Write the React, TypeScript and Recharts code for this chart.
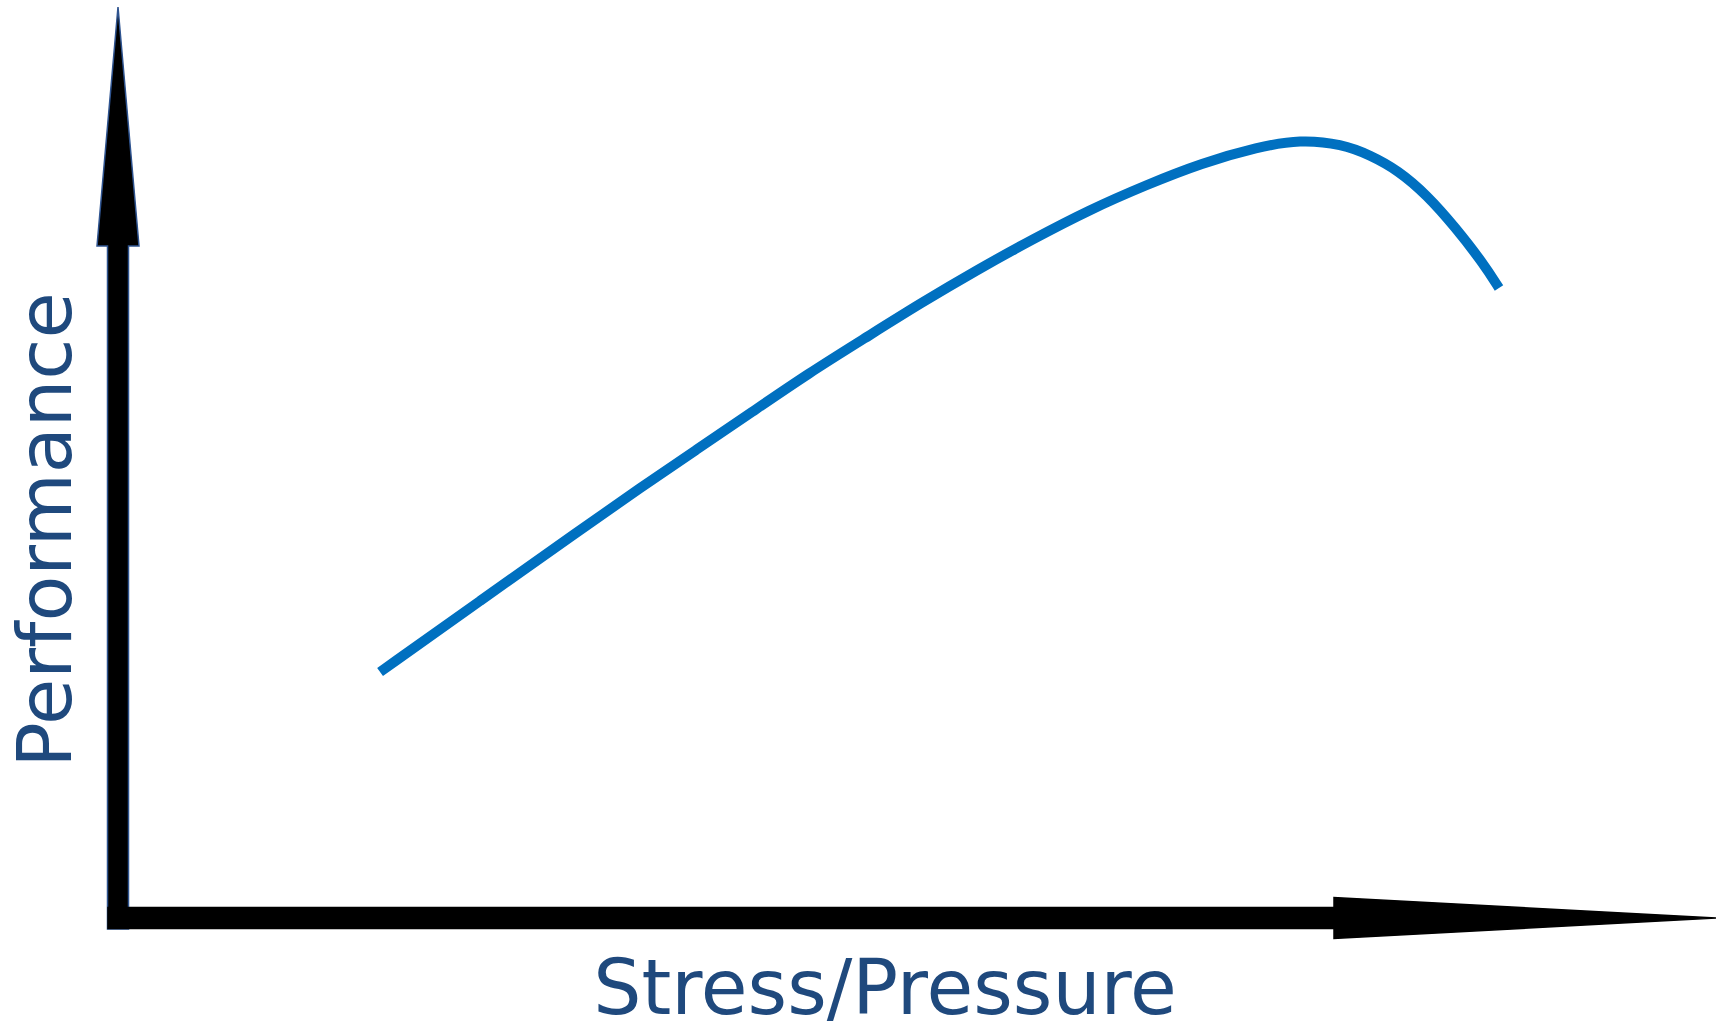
import React from 'react';
import { Line, LineChart, ReferenceLine, XAxis, YAxis } from 'recharts';

// stress / performance readings along the curve
const stress = [
  16.4, 22.65, 28.91, 32.67, 36.17, 39.67, 43.24, 46.75, 50.25, 53.75, 57.26,
  60.76, 64.33, 67.83, 71.34, 73.97, 76.6, 78.35, 80.1, 81.91, 83.67, 85.42,
  86.42,
];
const performance = [
  27.0, 34.8, 42.59, 47.2, 51.37, 55.54, 59.82, 63.66, 67.51, 71.13, 74.53,
  77.72, 80.46, 82.88, 84.63, 85.45, 84.95, 83.75, 82.08, 79.36, 75.85, 71.9,
  69.15,
];

const xAxisTitle = 'Stress/Pressure';
const yAxisTitle = 'Performance';

const data = stress.map((s, i) => ({ stress: s, performance: performance[i] }));

const TEXT_COLOR = '#1F497D';
const FONT = '"DejaVu Sans", Verdana, sans-serif';

type ArrowOpts = {
  headLength: number;
  headHalf: number;
  shaftHalf: number;
  tail: number;
  stroke: string;
};

const arrowShape =
  ({ headLength, headHalf, shaftHalf, tail, stroke }: ArrowOpts) =>
  // eslint-disable-next-line
  (props: any) => {
    const { x1, y1, x2, y2 } = props;
    const dx = x2 - x1;
    const dy = y2 - y1;
    const len = Math.sqrt(dx * dx + dy * dy) || 1;
    const ux = dx / len;
    const uy = dy / len;
    const nx = -uy;
    const ny = ux;
    const tx = x1 - ux * tail;
    const ty = y1 - uy * tail;
    const bx = x2 - ux * headLength;
    const by = y2 - uy * headLength;
    const pts = [
      [tx + nx * shaftHalf, ty + ny * shaftHalf],
      [bx + nx * shaftHalf, by + ny * shaftHalf],
      [bx + nx * headHalf, by + ny * headHalf],
      [x2, y2],
      [bx - nx * headHalf, by - ny * headHalf],
      [bx - nx * shaftHalf, by - ny * shaftHalf],
      [tx - nx * shaftHalf, ty - ny * shaftHalf],
    ]
      .map((p) => `${p[0]},${p[1]}`)
      .join(' ');

    return (
      <polygon fill="#000" points={pts} stroke={stroke} strokeWidth={1.5} />
    );
  };

// eslint-disable-next-line
const XTitle = (props: any) => {
  const { x, y, width } = props.viewBox;

  return (
    <text
      fill={TEXT_COLOR}
      fontFamily={FONT}
      fontSize={76}
      textAnchor="middle"
      x={x + width * 0.48}
      y={y + 96}>
      {xAxisTitle}
    </text>
  );
};

// eslint-disable-next-line
const YTitle = (props: any) => {
  const { y, height } = props.viewBox;
  const cx = 71;
  const cy = y + height * 0.574;

  return (
    <text
      fill={TEXT_COLOR}
      fontFamily={FONT}
      fontSize={75}
      textAnchor="middle"
      transform={`rotate(-90, ${cx}, ${cy})`}
      x={cx}
      y={cy}>
      {yAxisTitle}
    </text>
  );
};

const App = () => {
  return (
    <div style={{ position: 'absolute', left: 0, top: 0, background: '#fff' }}>
      <LineChart
        data={data}
        height={1030}
        margin={{ top: 7, right: 0, left: 0, bottom: 0 }}
        width={1716}>
        <XAxis
          axisLine={false}
          dataKey="stress"
          domain={[0, 100]}
          height={112}
          label={<XTitle />}
          tick={false}
          tickLine={false}
          ticks={[]}
          type="number"
        />
        <YAxis
          axisLine={false}
          domain={[0, 100]}
          label={<YTitle />}
          tick={false}
          tickLine={false}
          ticks={[]}
          type="number"
          width={118}
        />
        <ReferenceLine
          ifOverflow="visible"
          segment={[
            { x: 0, y: 0 },
            { x: 0, y: 100 },
          ]}
          shape={arrowShape({
            headLength: 239,
            headHalf: 21,
            shaftHalf: 10.5,
            tail: 11,
            stroke: '#2F5490',
          })}
        />
        <ReferenceLine
          ifOverflow="visible"
          segment={[
            { x: 0, y: 0 },
            { x: 100, y: 0 },
          ]}
          shape={arrowShape({
            headLength: 382,
            headHalf: 20.5,
            shaftHalf: 10.5,
            tail: 10,
            stroke: '#000',
          })}
        />
        <Line
          dataKey="performance"
          dot={false}
          isAnimationActive={false}
          stroke="#0070C0"
          strokeLinecap="butt"
          strokeWidth={10}
          type="basis"
        />
      </LineChart>
    </div>
  );
};

export default App;
